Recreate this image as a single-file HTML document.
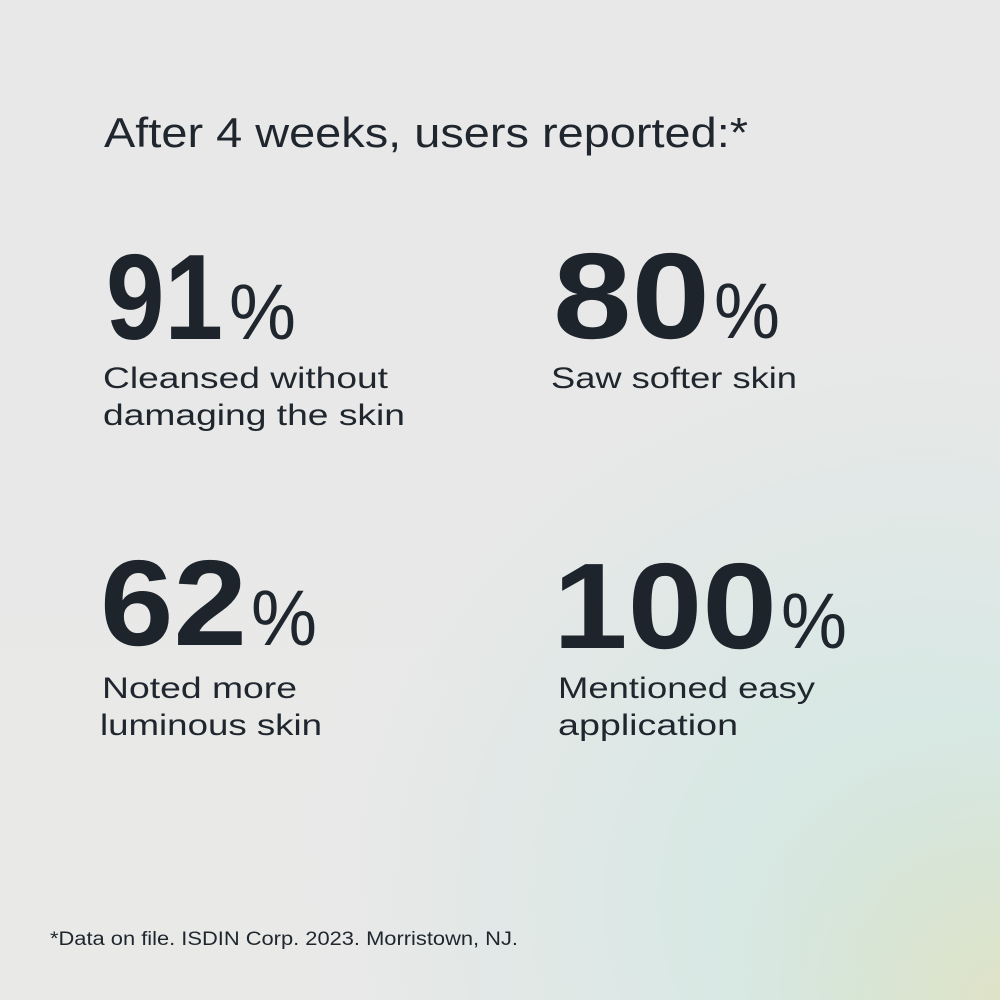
<!DOCTYPE html>
<html>
<head>
<meta charset="utf-8">
<style>
  html, body { margin: 0; padding: 0; width: 1000px; height: 1000px; overflow: hidden; background: #e8e8e7; }
  svg { display: block; }
  text { font-family: "Liberation Sans", "DejaVu Sans", sans-serif; fill: #1f262e; }
  .b { font-weight: bold; fill: #1d242c; }
</style>
</head>
<body>
<svg width="1000" height="1000" viewBox="0 0 1000 1000" xmlns="http://www.w3.org/2000/svg">
  <defs>
    <radialGradient id="mint" cx="920" cy="900" r="620" gradientUnits="userSpaceOnUse" gradientTransform="translate(920 900) scale(1.05 1) translate(-920 -900)">
      <stop offset="0" stop-color="#d5e7e0" stop-opacity="1"/>
      <stop offset="0.35" stop-color="#d8e8e4" stop-opacity="0.95"/>
      <stop offset="0.7" stop-color="#dde8e6" stop-opacity="0.5"/>
      <stop offset="1" stop-color="#e8e8e7" stop-opacity="0"/>
    </radialGradient>
    <radialGradient id="yel" cx="1000" cy="1000" r="300" gradientUnits="userSpaceOnUse">
      <stop offset="0" stop-color="#dfe2c6" stop-opacity="1"/>
      <stop offset="0.5" stop-color="#d9e4cf" stop-opacity="0.6"/>
      <stop offset="1" stop-color="#d6e6dc" stop-opacity="0"/>
    </radialGradient>
    <linearGradient id="top" x1="0" y1="0" x2="0" y2="1">
      <stop offset="0" stop-color="#e8e8e8"/>
      <stop offset="1" stop-color="#e9e9e8"/>
    </linearGradient>
  </defs>
  <rect width="1000" height="1000" fill="url(#top)"/>
  <rect width="1000" height="1000" fill="url(#mint)"/>
  <rect width="1000" height="1000" fill="url(#yel)"/>

  <text x="104" y="147" font-size="42" textLength="644" lengthAdjust="spacingAndGlyphs">After 4 weeks, users reported:*</text>

  <text class="b" x="106" y="339" font-size="122" textLength="117" lengthAdjust="spacingAndGlyphs">91</text>
  <text x="229" y="339" font-size="79" textLength="67" lengthAdjust="spacingAndGlyphs">%</text>
  <text x="103" y="388" font-size="30" textLength="285" lengthAdjust="spacingAndGlyphs">Cleansed without</text>
  <text x="103" y="425" font-size="30" textLength="302" lengthAdjust="spacingAndGlyphs">damaging the skin</text>

  <text class="b" x="553" y="338" font-size="122" textLength="157" lengthAdjust="spacingAndGlyphs">80</text>
  <text x="714" y="338" font-size="79" textLength="66" lengthAdjust="spacingAndGlyphs">%</text>
  <text x="551" y="388" font-size="30" textLength="246" lengthAdjust="spacingAndGlyphs">Saw softer skin</text>

  <text class="b" x="100" y="645" font-size="122" textLength="147" lengthAdjust="spacingAndGlyphs">62</text>
  <text x="251" y="645" font-size="79" textLength="66" lengthAdjust="spacingAndGlyphs">%</text>
  <text x="102" y="698" font-size="30" textLength="195" lengthAdjust="spacingAndGlyphs">Noted more</text>
  <text x="100" y="735" font-size="30" textLength="222" lengthAdjust="spacingAndGlyphs">luminous skin</text>

  <text class="b" x="553" y="648" font-size="122" textLength="224" lengthAdjust="spacingAndGlyphs">100</text>
  <text x="781" y="648" font-size="79" textLength="66" lengthAdjust="spacingAndGlyphs">%</text>
  <text x="558" y="698" font-size="30" textLength="257" lengthAdjust="spacingAndGlyphs">Mentioned easy</text>
  <text x="558" y="735" font-size="30" textLength="180" lengthAdjust="spacingAndGlyphs">application</text>

  <text x="50" y="945" font-size="19" textLength="468" lengthAdjust="spacingAndGlyphs">*Data on file. ISDIN Corp. 2023. Morristown, NJ.</text>
</svg>
</body>
</html>
